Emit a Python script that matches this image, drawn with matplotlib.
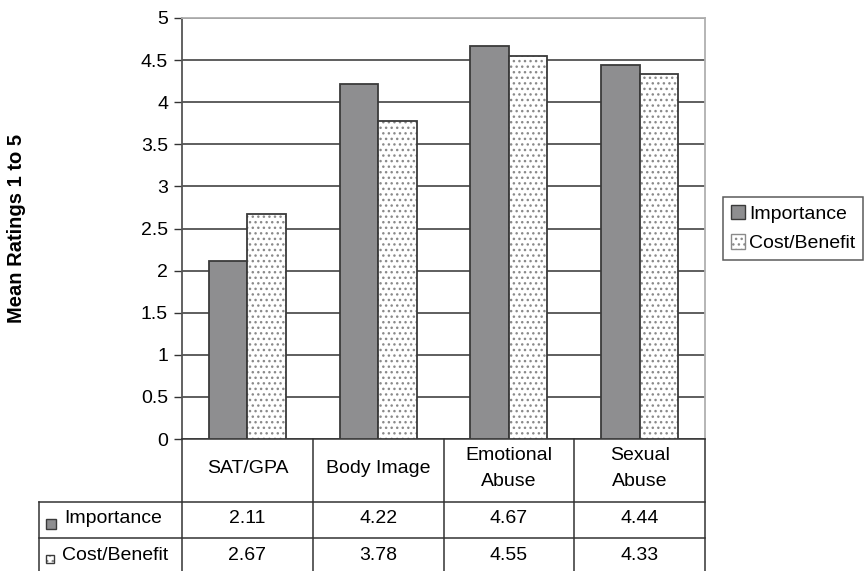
import numpy as np
import matplotlib.pyplot as plt
from matplotlib.lines import Line2D
from matplotlib.patches import Rectangle
from matplotlib.transforms import blended_transform_factory

plt.rcParams['font.family'] = ['Liberation Sans', 'DejaVu Sans']
plt.rcParams['hatch.linewidth'] = 1.0

categories = ["SAT/GPA", "Body Image", "Emotional\nAbuse", "Sexual\nAbuse"]
importance = [2.11, 4.22, 4.67, 4.44]
cost_benefit = [2.67, 3.78, 4.55, 4.33]
series_names = ["Importance", "Cost/Benefit"]

W, H = 865, 571
fig = plt.figure(figsize=(W / 100, H / 100), dpi=100)

def fx(x):
    return x / W

def fy(y):
    return 1 - y / H

ax = fig.add_axes([fx(182), fy(439), fx(705 - 182), (439 - 18) / H])

fs = 14
x = np.arange(len(categories))
bw = 0.295
gray = "#8e8e90"
edge = "#3a3a3a"
dot = "#8a8a8a"
ax.bar(x - bw / 2, importance, bw, color=gray, edgecolor=edge, linewidth=1.3, zorder=3)
# dotted bars: hatch in gray, then outline on top
ax.bar(x + bw / 2, cost_benefit, bw, color="white", edgecolor=dot, hatch="...", linewidth=0, zorder=3)
ax.bar(x + bw / 2, cost_benefit, bw, color="none", edgecolor=edge, linewidth=1.3, zorder=4)

ax.set_xlim(-0.5, len(categories) - 0.5)
ax.set_ylim(0, 5)
ax.set_yticks(np.arange(0, 5.01, 0.5))
ax.set_yticklabels(["0", "0.5", "1", "1.5", "2", "2.5", "3", "3.5", "4", "4.5", "5"])
ax.set_xticks([])
ax.tick_params(axis="y", length=6, width=1, color="#333333", labelsize=fs, pad=4, direction="out")
ax.yaxis.grid(True, color="#333333", linewidth=1.1, zorder=0)
ax.set_axisbelow(True)
for side in ["top", "right"]:
    ax.spines[side].set_color("#b0b0b0")
    ax.spines[side].set_linewidth(1.3)
ax.spines["left"].set_color("#555555")
ax.spines["left"].set_linewidth(1.3)
ax.spines["bottom"].set_color("#333333")
ax.spines["bottom"].set_linewidth(1.1)

fig.text(fx(17), fy(228), "Mean Ratings 1 to 5", rotation=90, ha="center", va="center",
         fontsize=14.5, fontweight="bold")

# legend
handles = [Rectangle((0, 0), 1, 1, facecolor=gray, edgecolor=edge, linewidth=1),
           Rectangle((0, 0), 1, 1, facecolor="white", edgecolor=dot, hatch="...", linewidth=1)]
leg = fig.legend(handles, series_names, loc="upper left", bbox_to_anchor=(fx(723), fy(197)),
                 frameon=True, fancybox=False, fontsize=fs, handlelength=0.75, handleheight=0.75,
                 handletextpad=0.2, borderpad=0.4, labelspacing=0.6, borderaxespad=0)
leg.get_frame().set_edgecolor("#333333")
leg.get_frame().set_linewidth(1.1)

# data table below the axes
lc = "#333333"
def hline(y, x0, x1):
    fig.add_artist(Line2D([fx(x0), fx(x1)], [fy(y), fy(y)], color=lc, linewidth=1.1))

def vline(xp, y0, y1):
    fig.add_artist(Line2D([fx(xp), fx(xp)], [fy(y0), fy(y1)], color=lc, linewidth=1.1))

hline(502, 39, 705)
hline(538, 39, 705)
vline(39, 502, 571)
tr = blended_transform_factory(ax.transData, fig.transFigure)
for b in np.arange(len(categories) + 1) - 0.5:
    xp = ax.transData.transform((b, 0))[0]
    vline(xp, 439, 571)

for i, cat in enumerate(categories):
    lines = cat.split("\n")
    for j, ln in enumerate(lines):
        base = 473 + (j - (len(lines) - 1) / 2) * 25
        fig.text(x[i], fy(base), ln, transform=tr, ha="center", va="baseline", fontsize=fs)
    fig.text(x[i], fy(523), f"{importance[i]:.2f}", transform=tr, ha="center", va="baseline", fontsize=fs)
    fig.text(x[i], fy(560), f"{cost_benefit[i]:.2f}", transform=tr, ha="center", va="baseline", fontsize=fs)

fig.add_artist(Rectangle((fx(46), fy(529)), fx(10), 10 / H, facecolor=gray, edgecolor=edge, linewidth=1))
fig.add_artist(Rectangle((fx(46), fy(563)), fx(8), 8 / H, facecolor="white", edgecolor=dot,
                         hatch="...", linewidth=0))
fig.add_artist(Rectangle((fx(46), fy(563)), fx(8), 8 / H, facecolor="none", edgecolor=edge, linewidth=1))
fig.text(fx(64), fy(523), series_names[0], ha="left", va="baseline", fontsize=fs)
fig.text(fx(62), fy(560), series_names[1], ha="left", va="baseline", fontsize=fs)

fig.savefig("out.png", dpi=100)
